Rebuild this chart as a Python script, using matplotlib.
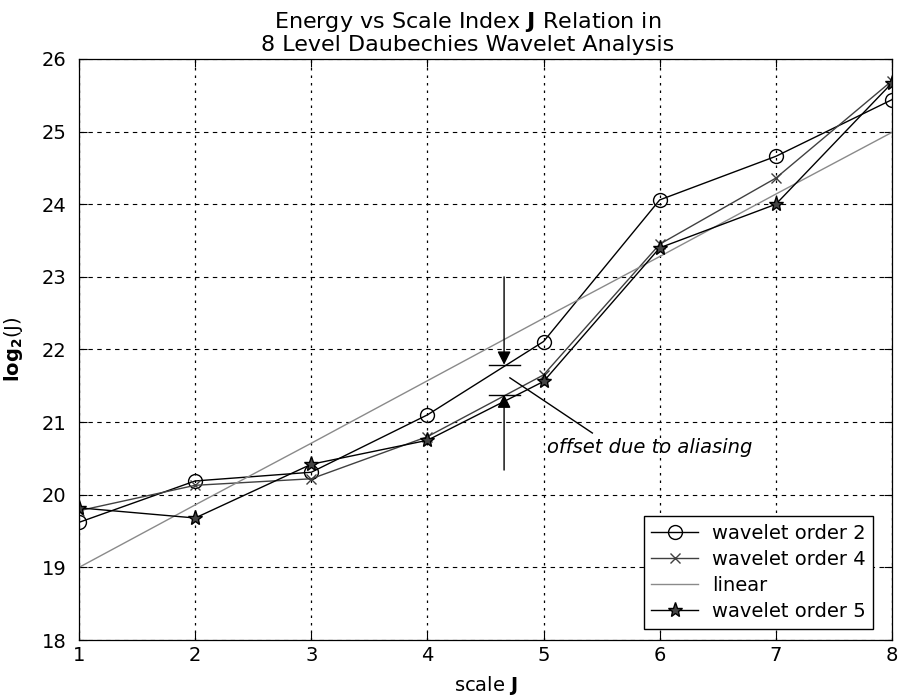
import matplotlib
matplotlib.use('Agg')
import matplotlib.pyplot as plt

# ---- data ----
J = [1, 2, 3, 4, 5, 6, 7, 8]
order2 = [19.62, 20.19, 20.31, 21.10, 22.11, 24.06, 24.66, 25.44]
order4 = [19.78, 20.13, 20.22, 20.80, 21.65, 23.45, 24.36, 25.70]
linear = [19.00, 19.86, 20.71, 21.57, 22.43, 23.28, 24.14, 24.99]
order5 = [19.82, 19.68, 20.42, 20.75, 21.56, 23.40, 24.00, 25.67]
series_labels = ['wavelet order 2', 'wavelet order 4', 'linear', 'wavelet order 5']
xticks = [1, 2, 3, 4, 5, 6, 7, 8]
yticks = [18, 19, 20, 21, 22, 23, 24, 25, 26]

# annotation (data coordinates)
arrow_x = 4.66
upper_arrow = [23.0, 21.79]
lower_arrow = [20.34, 21.38]
bar_x = [4.53, 4.80]
pointer_x = [4.71, 5.42]
pointer_y = [21.61, 20.85]
note_xy = [5.03, 20.58]
note_text = 'offset due to aliasing'

plt.rcParams['font.family'] = ['DejaVu Sans']
plt.rcParams['mathtext.fontset'] = 'dejavusans'

fig = plt.figure(figsize=(9.01, 6.99), dpi=100)
ax = fig.add_axes([0.0877, 0.0844, 0.9023, 0.8312])

ax.plot(J, order2, color='black', lw=1.0, marker='o', ms=10, mfc='none',
        mec='black', mew=1.0, label=series_labels[0])
ax.plot(J, order4, color='#404040', lw=1.0, marker='x', ms=7,
        mew=1.0, label=series_labels[1])
ax.plot(J, linear, color='#8a8a8a', lw=1.0, label=series_labels[2])
ax.plot(J, order5, color='black', lw=1.0, marker='*', ms=11, mfc='#444444',
        mec='black', mew=1.0, label=series_labels[3])

ax.set_xlim(1, 8)
ax.set_ylim(18, 26)
ax.set_xticks(xticks)
ax.set_yticks(yticks)
ax.tick_params(axis='both', direction='in', top=True, right=True,
               length=6, width=0.8, labelsize=14, colors='black')
ax.tick_params(axis='x', pad=4)
ax.tick_params(axis='y', pad=9)
for s in ax.spines.values():
    s.set_linewidth(0.9)
    s.set_color('black')

ax.yaxis.grid(True, color='black', linestyle=(0, (4, 4)), linewidth=0.8)
ax.xaxis.grid(True, color='black', linestyle=(0, (2, 4)), linewidth=0.9)
ax.set_axisbelow(True)

ax.set_title('Energy vs Scale Index $\\mathbf{J}$ Relation in\n8 Level Daubechies Wavelet Analysis',
             fontsize=16, pad=6, linespacing=1.05, x=0.478)
ax.set_xlabel('scale $\\mathbf{J}$', fontsize=14)
ax.xaxis.set_label_coords(0.5, -0.058)
ax.set_ylabel('$\\mathbf{log_2}$(J)', fontsize=14)
ax.yaxis.set_label_coords(-0.066, 0.5)

# annotations
arrowprops = dict(arrowstyle='-|>', color='black', lw=1.0, mutation_scale=20,
                  shrinkA=0, shrinkB=0)
ax.annotate('', xy=(arrow_x, upper_arrow[1]), xytext=(arrow_x, upper_arrow[0]),
            arrowprops=arrowprops)
ax.annotate('', xy=(arrow_x, lower_arrow[1]), xytext=(arrow_x, lower_arrow[0]),
            arrowprops=arrowprops)
ax.plot(bar_x, [upper_arrow[1], upper_arrow[1]], color='black', lw=1.0)
ax.plot(bar_x, [lower_arrow[1], lower_arrow[1]], color='black', lw=1.0)
ax.plot(pointer_x, pointer_y, color='black', lw=1.0)
ax.text(note_xy[0], note_xy[1], note_text, fontsize=14, style='italic',
        ha='left', va='baseline')

leg = ax.legend(loc='lower right', bbox_to_anchor=(0.977, 0.019),
                borderaxespad=0, fontsize=14, frameon=True, fancybox=False,
                edgecolor='black', framealpha=1, handlelength=2.4,
                handletextpad=0.7, labelspacing=0.36, borderpad=0.4)
leg.get_frame().set_linewidth(1.0)

fig.savefig('out.png', dpi=100)
